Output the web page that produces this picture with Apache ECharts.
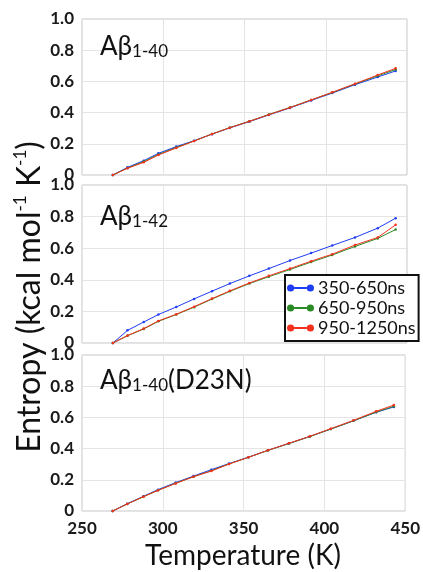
<!DOCTYPE html>
<html>
<head>
<meta charset="utf-8">
<script src="https://cdn.jsdelivr.net/npm/echarts@6/dist/echarts.min.js"></script>
<style>
html,body{margin:0;padding:0;background:#fff;}
#c{width:423px;height:572px;}
</style>
</head>
<body>
<div id="c"></div>
<script>
// Temperatures (K)
var temps = [269, 278, 288, 297, 308, 319, 330, 341, 353, 365, 378, 391, 404, 418, 432, 443];
var seriesNames = ['350-650ns', '650-950ns', '950-1250ns'];
var xTicks = [250, 300, 350, 400, 450];
var yTicks = [0, 0.2, 0.4, 0.6, 0.8, 1.0];

// Panel 1: Aβ1-40
var p1Blue  = [0, 0.049, 0.092, 0.139, 0.182, 0.220, 0.262, 0.302, 0.342, 0.385, 0.430, 0.478, 0.525, 0.579, 0.628, 0.667];
var p1Green = [0, 0.045, 0.086, 0.132, 0.177, 0.218, 0.263, 0.304, 0.345, 0.388, 0.433, 0.481, 0.529, 0.583, 0.636, 0.676];
var p1Red   = [0, 0.043, 0.081, 0.128, 0.173, 0.218, 0.263, 0.303, 0.344, 0.387, 0.432, 0.481, 0.530, 0.585, 0.641, 0.684];

// Panel 2: Aβ1-42
var p2Blue  = [0, 0.080, 0.133, 0.180, 0.228, 0.279, 0.328, 0.376, 0.425, 0.471, 0.522, 0.569, 0.617, 0.668, 0.727, 0.790];
var p2Green = [0, 0.046, 0.089, 0.137, 0.180, 0.227, 0.278, 0.327, 0.376, 0.420, 0.465, 0.512, 0.557, 0.611, 0.662, 0.718];
var p2Red   = [0, 0.047, 0.091, 0.140, 0.182, 0.230, 0.281, 0.330, 0.380, 0.425, 0.471, 0.518, 0.562, 0.620, 0.668, 0.748];

// Panel 3: Aβ1-40(D23N)
var p3Blue  = [0, 0.047, 0.094, 0.137, 0.182, 0.224, 0.265, 0.304, 0.345, 0.389, 0.433, 0.478, 0.526, 0.578, 0.633, 0.667];
var p3Green = [0, 0.045, 0.091, 0.133, 0.178, 0.220, 0.258, 0.302, 0.344, 0.388, 0.432, 0.477, 0.525, 0.578, 0.634, 0.671];
var p3Red   = [0, 0.045, 0.092, 0.132, 0.177, 0.220, 0.256, 0.301, 0.344, 0.389, 0.434, 0.479, 0.528, 0.581, 0.639, 0.679];

var panelLabels = [
  {main: 'Aβ', sub: '1-40', tail: ''},
  {main: 'Aβ', sub: '1-42', tail: ''},
  {main: 'Aβ', sub: '1-40', tail: '(D23N)'}
];

var colors = ['#1f3cf5', '#2a8a26', '#f5301c'];
var FONT = 'Lato';

var panels = [[p1Blue, p1Green, p1Red], [p2Blue, p2Green, p2Red], [p3Blue, p3Green, p3Red]];
var gridTops = [19, 185, 355];
var gridHeights = [156, 158, 156];

function pairs(xs, ys) { return xs.map(function (x, i) { return [x, ys[i]]; }); }

var grids = [], xAxes = [], yAxes = [], series = [];
for (var p = 0; p < 3; p++) {
  grids.push({left: 82, width: 325, top: gridTops[p], height: gridHeights[p], show: true, borderColor: '#c4c4c4', borderWidth: 1, backgroundColor: '#fff'});
  xAxes.push({
    type: 'value', gridIndex: p, min: xTicks[0], max: xTicks[xTicks.length - 1], interval: 50,
    axisLine: {show: false}, axisTick: {show: false},
    splitLine: {show: true, lineStyle: {color: '#e4e4e4', width: 1}},
    axisLabel: {show: p === 2, margin: 9, color: '#1a1a1a', fontFamily: FONT, fontSize: 17, fontWeight: 'bold'}
  });
  yAxes.push({
    type: 'value', gridIndex: p, min: yTicks[0], max: yTicks[yTicks.length - 1], interval: 0.2,
    axisLine: {show: false}, axisTick: {show: false},
    splitLine: {show: true, lineStyle: {color: '#e4e4e4', width: 1}},
    axisLabel: {margin: 8, color: '#1a1a1a', fontFamily: FONT, fontSize: 17, fontWeight: 'bold',
      formatter: function (v) { return v === 0 ? '0' : v.toFixed(1); }}
  });
  for (var s = 0; s < 3; s++) {
    series.push({
      name: seriesNames[s], type: 'line', xAxisIndex: p, yAxisIndex: p,
      data: pairs(temps, panels[p][s]),
      symbol: 'circle', symbolSize: 2.5, showSymbol: true,
      lineStyle: {color: colors[s], width: 1},
      itemStyle: {color: colors[s]},
      z: 2 + s, animation: false
    });
  }
}

var graphics = [];
var labelPos = [[100, 49], [100, 219], [100, 383]];
for (var p = 0; p < 3; p++) {
  var L = panelLabels[p];
  graphics.push({
    type: 'text', left: labelPos[p][0], top: labelPos[p][1] - 15, z: 10,
    style: {
      text: '{a|' + L.main + '}{b|' + L.sub + '}' + (L.tail ? '{a|' + L.tail + '}' : ''),
      rich: {
        a: {fontFamily: FONT, fontSize: 26, lineHeight: 30, fill: '#111', verticalAlign: 'bottom'},
        b: {fontFamily: FONT, fontSize: 17, lineHeight: 18, fill: '#111', verticalAlign: 'bottom'}
      }
    }
  });
}
// Y title
graphics.push({
  type: 'text', x: 29, y: 297, rotation: Math.PI / 2, z: 10,
  style: {
    text: '{a|Entropy (kcal mol}{s|-1}{a| K}{s|-1}{a|)}',
    align: 'center', verticalAlign: 'middle',
    rich: {
      a: {fontFamily: FONT, fontSize: 32, lineHeight: 34, fill: '#111', verticalAlign: 'bottom'},
      s: {fontFamily: FONT, fontSize: 17, lineHeight: 34, fill: '#111', verticalAlign: 'top', padding: [0, 0, 15, 0]}
    }
  }
});
// X title
graphics.push({
  type: 'text', x: 243, y: 556, z: 10,
  style: {text: 'Temperature (K)', fontFamily: FONT, fontSize: 28, fill: '#111', align: 'center', verticalAlign: 'middle'}
});

var chart = echarts.init(document.getElementById('c'), null, {renderer: 'canvas'});
chart.setOption({
  animation: false,
  backgroundColor: '#fff',
  grid: grids, xAxis: xAxes, yAxis: yAxes, series: series,
  legend: {
    data: seriesNames, orient: 'vertical', left: 285, bottom: 231,
    icon: 'path://M0,4a4,4 0 1,0 8,0a4,4 0 1,0 -8,0zM8,3h14v2h-14zM22,4a4,4 0 1,0 8,0a4,4 0 1,0 -8,0z',
    itemWidth: 27, itemHeight: 8, itemGap: 2,
    backgroundColor: '#fff', borderColor: '#111', borderWidth: 2, borderRadius: 0,
    padding: [4, 3, 4, 2], z: 20,
    textStyle: {fontFamily: FONT, fontSize: 18, color: '#111', padding: [0, 0, 0, -1]},
    selectedMode: false
  },
  graphic: graphics
});
</script>
</body>
</html>
